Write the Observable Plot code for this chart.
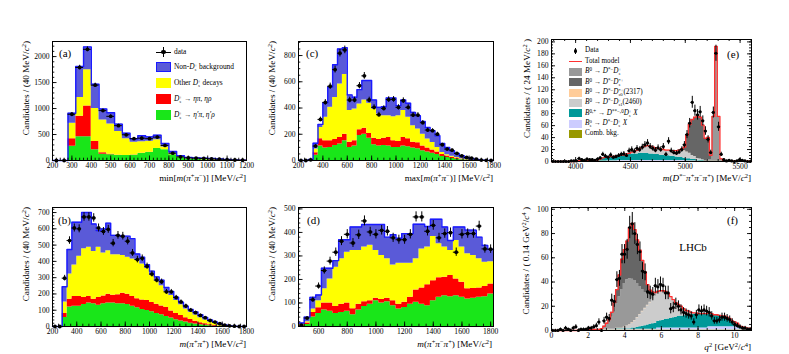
<!DOCTYPE html>
<html><head><meta charset="utf-8">
<script src="https://cdn.jsdelivr.net/npm/d3@7"></script>
<script src="https://cdn.jsdelivr.net/npm/@observablehq/plot@0.6"></script>
<style>
html,body{margin:0;padding:0;background:#fff;}
#root{position:relative;width:789px;height:354px;overflow:hidden;font-family:"Liberation Serif","Times New Roman",serif;color:#000;background:#fff}
#root svg{position:absolute}
.t{position:absolute;white-space:nowrap;line-height:1}
.t sup{font-size:70%;position:relative;top:-0.45em;vertical-align:baseline;line-height:0}
.t sub{font-size:70%;position:relative;top:0.3em;vertical-align:baseline;line-height:0}
.ss{display:inline-block;font-size:65%;line-height:0.85;vertical-align:-0.4em;text-align:left}
.ss>span{display:block}
.bx{position:absolute}
</style></head>
<body><div id="root"></div>
<script>
// ---------------- Panel (a): min[m(pi+pi-)] ----------------
const aTicksX = [200,300,400,500,600,700,800,900,1000,1100,1200];
const aTicksY = [0,500,1000,1500,2000];
const aData   = [0,0,890,1790,2140,1450,960,850,670,495,420,430,420,450,290,140,70,50,45,40,30,25,15,10,5];
const aGreen  = [0,0,276,455,455,205,120,110,95,95,100,135,155,230,205,110,58,30,20,15,12,10,6,4,2];
const aRed    = [0,0,417,853,1051,365,150,118,100,98,104,138,158,233,208,113,60,31,21,16,13,11,7,5,3];
const aYellow = [0,0,718,1211,1744,1000,780,700,560,420,350,360,370,400,260,130,70,45,36,30,25,18,12,8,4];
const aTotal  = [0,0,910,1808,2186,1468,990,920,700,525,420,475,455,487,327,173,90,58,50,45,40,30,20,12,6];

// ---------------- Panel (c): max[m(pi+pi-)] ----------------
const cTicksX = [200,400,600,800,1000,1200,1400,1600,1800];
const cTicksY = [0,200,400,600,800];
const cData   = [0,0,5,110,313,443,566,693,818,843,461,461,570,645,461,405,349,397,464,466,405,456,405,346,346,288,232,227,201,120,87,79,54,36,23,18,10,3,1,0];
const cTotal  = [0,0,8,132,275,440,560,730,850,860,500,482,540,610,610,461,405,410,476,476,418,461,436,367,341,298,252,227,189,130,99,74,54,36,23,15,8,3,1,0];
const cYellow = [0,0,3,87,252,330,405,481,583,655,382,392,430,461,436,392,354,341,341,334,341,382,329,265,240,201,163,138,99,61,43,33,23,13,8,3,1,0,0,0];
const cRed    = [0,0,2,60,165,150,150,160,175,200,140,150,235,245,205,170,160,170,175,150,145,175,165,140,135,110,95,80,65,45,35,25,18,10,6,3,1,0,0,0];
const cGreen  = [0,0,1,40,110,95,100,115,125,150,100,110,190,200,170,120,110,115,110,100,100,110,105,95,90,75,65,55,45,30,22,16,10,6,3,1,0,0,0,0];

// ---------------- Panel (b): m(pi+pi+) ----------------
const bTicksX = [200,400,600,800,1000,1200,1400,1600,1800];
const bTicksY = [0,100,200,300,400,500,600,700];
const bData   = [0,0,297,528,605,600,673,673,667,605,584,597,512,560,555,524,452,411,419,370,322,285,275,213,213,178,151,126,101,85,68,54,37,27,17,8,4,2,0,0];
const bTotal  = [0,0,244,473,640,640,700,700,630,590,600,635,560,560,555,555,540,445,425,380,340,305,285,240,215,180,150,125,105,90,72,55,40,28,18,10,4,2,0,0];
const bYellow = [0,0,150,322,378,432,477,487,460,487,452,466,440,440,436,425,415,405,384,357,315,280,250,215,190,160,133,108,88,70,54,40,28,18,9,4,1,0,0,0];
const bRed    = [0,0,80,167,184,184,178,184,167,178,188,198,192,195,204,198,184,171,163,159,147,136,126,116,95,80,68,54,43,33,23,17,10,6,2,0,0,0,0,0];
const bGreen  = [0,0,55,120,125,125,135,145,140,130,140,145,145,140,140,135,125,115,105,98,90,80,72,62,52,42,34,27,20,15,10,7,4,2,1,0,0,0,0,0];

// ---------------- Panel (d): m(pi+pi-pi+) ----------------
const dTicksX = [600,800,1000,1200,1400,1600,1800];
const dTicksY = [0,100,200,300,400,500];
const dData   = [6,36,114,172,238,278,316,363,392,355,390,449,402,392,409,405,377,369,369,392,466,466,405,430,377,395,399,316,392,395,395,427,330,329];
const dTotal  = [15,40,124,134,248,248,280,369,369,423,423,434,434,434,434,380,390,375,395,395,435,435,425,456,456,423,366,423,423,410,410,380,345,328];
const dYellow = [8,20,74,110,160,202,252,288,316,323,323,338,345,323,302,288,262,269,269,269,288,330,338,383,352,338,323,366,338,309,302,288,273,275];
const dRed    = [3,15,60,80,100,100,85,95,100,75,95,105,110,120,115,120,110,95,103,124,155,164,178,195,207,209,217,202,188,160,162,164,170,181];
const dGreen  = [0,8,40,55,70,65,55,60,65,50,70,85,95,110,100,105,88,74,81,95,103,95,88,110,124,131,127,131,124,117,120,124,127,138];

// ---------------- Panel (e): m(D*- pi+ pi- pi+), 24 MeV bins from 3780 ----------------
const eTicksX = [4000,4500,5000,5500];
const eTicksY = [0,20,40,60,80,100,120,140,160,180,200];
const eData = [0,0,0,0,0,0,0,1,1,1, 5,3,2,4,3,3,2,4,6,12, 9,7,11,7,8,10,12,13,10,18,
  20,17,22,20,24,28,31,25,22,19, 23,20,25,12,34,18,15,14,16,20, 28,45,64,99,85,78,83,68,51,37,
  15,82,181,58,12,3,1,2,1,0, 1,3,2,1,0,0];
const eCombVals   = [0.4,0.4,0.4,0.4,0.4,0.4,0.4,0.4,0.4,0.4, 0.4,0.4,0.4,0.4,0.4,0.4,0.4,0.4,0.4,0.4, 0.4,0.4,0.4,0.4,0.4,0.4,0.4,0.4,0.4,0.4,
  0.4,0.4,0.4,0.4,0.4,0.4,0.4,0.4,0.4,0.4, 0.4,0.4,0.4,0.4,0.4,0.4,0.4,0.4,0.4,0.4, 0.4,0.4,0.4,0.4,0.4,0.4,0.4,0.4,0.4,0.4, 0.4,0.4,0.4,0.4,0.4,0.4,0.4]; // from bin 9
const eBsVals     = [0.5,0.5,0.5,0.5,0.5,0.5,1,1,1,1, 1.2,1.2,1.2,1.2,1.2,1.2,1.2,1.2,1.2,1.2, 1.2,1.2,1.2,1.2,1.2,1.2,1.2,1.2,1.2,1.2,
  1.2,1.2,1.2,1.2,1.2,1.2,1,1,0.8,0.8, 0.8,0.6,0.5,0.4]; // from bin 15
const eTealVals   = [1,1,1,1,1,1,1,1,2,3,5, 6,6,7,7,8,8,9,9,10,10, 11,11,11,12,12,12,12,11,11,10, 10,9,9,8,8,7,7,6,5,5, 4,3,3,2,2,1,1,1]; // from bin 9
const e2460Vals   = [1,2,3,4,6,8,10,12,13,13,12,11,10,10,9,9,9,9,9,10,11,12,12,11,9,7,5,3,2,1]; // from bin 28
const e2317Vals   = [0.5,0.5,0.5,0.5,0.5,0.5,0.5,0.5,0.5,0.5,0.5,0.5,0.5]; // from bin 40
const eDsVals     = [2,2,72,190,74,4,1]; // from bin 59
const eDsStarVals = [1,2,6,28,48,60,66,71,70,58,38,38,8,3,2,1]; // from bin 48

// ---------------- Panel (f): q^2, 0.14 GeV^2 bins from 0 ----------------
const fTicksX = [0,2,4,6,8,10];
const fTicksY = [0,20,40,60,80,100];
const fData = [0,0,0,1,0,2,1,0,2,3, 0,1,1,1,2,2,3,4,7,0, 8,11,10,25,24,42,43,63,63,67,
  85,88,80,71,65,49,48,32,31,30, 37,36,38,37,31,31,18,19,22,20, 17,15,14,13,12,7,13,17,16,17,
  16,15,12,8,8,9,11,11,10,9, 7,5,4,3,2,2,1,1];
const fCombVals   = [0.5,0.5,0.5,0.5,0.5,0.5,0.5,0.5,0.5,0.5, 0.5,0.5,0.5,0.5,0.5,0.5,0.5,0.5,0.5,0.5, 0.5,0.5,0.5,0.5,0.5,0.5,0.5,0.5,0.5,0.5,
  0.5,0.5,0.5,0.5,0.5,0.5,0.5,0.5,0.5,0.5, 0.5,0.5,0.5,0.5,0.5,0.5,0.5,0.5,0.5,0.5, 0.5,0.5,0.5,0.5,0.5,0.5,0.5,0.5,0.5,0.5, 0.5,0.5,0.5,0.5]; // from bin 14
const fBsVals     = [0.5,0.5,0.5,0.5,0.5,0.5,0.5,0.5,0.5,0.5,0.5,0.5,0.5,0.5,0.5,0.5,0.5,0.5,0.5,0.5,0.5,
  1.5,1.5,1.5,1.5,1.5,1.5,1.5,1.5,1.5,1.5,1.5,1.5,1.5,1.5,1.5,1.5,1.5,1.5,1.5,1.5,
  2.5,2.5,2.5,2.5,2.5,2.5,2.5,2.5,2.5,2.5,2.5,2.5, 1,1,1,1,1]; // from bin 20
const fTealVals   = [0.5,0.5,0.5,0.5,0.5,0.5, 1,1,1.5,2,2.5,3,3.5,4,4.5,5,5.5,6,6.5,7,7.5,8,8.5,9,9.5,10,10,10.5,11,11,11.5,
  12,12,12,12,12,11.5,11,10,10,9.5,9,9,8,7,5,4,3,2,1.5,1,0.5,0.5]; // from bin 25
const f2460Vals   = [1,2,3,4,6,8,10,12,14,16,18,20,22,23,24,24,23,21,18,15,12,10,8,6,4,3,2,1,0.5]; // from bin 28
const f2317Vals   = [0.3,0.3,0.3,0.3,0.3,0.3,0.3,0.3,0.3,0.3,0.3,0.3,0.3,0.3,0.3,0.3,0.3,0.3,0.3,0.3,0.3]; // from bin 25
const fDsVals     = [0.3,0.3,0.4,0.4,0.5,0.5,0.5,0.5, 0.5,1,2,4,6,10,14,20,26,32,36,38,38,36,33,28,23,18,13,9,6,4,2,1,0.5]; // from bin 10
const fDsStarVals = [0.5,1,2,4,8,12,18,25,28,32,42,46,42,36,30,24,17,8,4,2,1,0.5]; // from bin 20

// ---------------- helpers ----------------
const root = document.getElementById("root");
function place(n, start, vals) { const a = new Array(n).fill(0); vals.forEach((v, i) => { a[start + i] = v; }); return a; }

const HC = {green: "#19e619", red: "#ff0000", yellow: "#ffff00", blue: "#5a5ad8", outline: "#1a1aff"};

function histMarks(edges, w, layers) {
  let prev = edges.map(() => 0);
  const marks = [];
  for (const L of layers) {
    const lo = prev, hi = L.top.map((v, i) => Math.max(v, lo[i]));
    const rows = edges.map((x, i) => ({x, lo: lo[i], hi: hi[i]}));
    rows.push({x: edges[edges.length - 1] + w, lo: lo[lo.length - 1], hi: hi[hi.length - 1]});
    marks.push(Plot.areaY(rows, {x: "x", y1: "lo", y2: "hi", fill: L.fill, curve: "step-after"}));
    if (L.outline) marks.push(Plot.line(rows, {x: "x", y: "hi", stroke: L.outline, strokeWidth: 1.4, curve: "step-after"}));
    prev = hi;
  }
  return marks;
}
function stackMarks(edges, w, comps, totalColor) {
  const rows = [];
  for (const c of comps) {
    c.values.forEach((v, i) => rows.push({x: edges[i], v, comp: c.name}));
    rows.push({x: edges[edges.length - 1] + w, v: c.values[c.values.length - 1], comp: c.name});
  }
  const total = edges.map((x, i) => ({x, v: d3.sum(comps, c => c.values[i])}));
  total.push({x: edges[edges.length - 1] + w, v: total[total.length - 1].v});
  return [
    Plot.areaY(rows, {x: "x", y: "v", fill: "comp", curve: "step-after"}),
    Plot.line(total, {x: "x", y: "v", stroke: totalColor, strokeWidth: 1.3, curve: "step-after"})
  ];
}
function dataMarks(edges, w, vals, r, minErr) {
  const pts = vals.map((v, i) => ({x: edges[i] + w / 2, v, e: Math.sqrt(Math.max(v, minErr))}));
  return [
    Plot.ruleX(pts, {x: "x", y1: d => Math.max(0, d.v - d.e), y2: d => d.v + d.e, stroke: "#000", strokeWidth: 1}),
    Plot.ruleY(pts, {y: "v", x1: d => d.x - w / 2, x2: d => d.x + w / 2, stroke: "#000", strokeWidth: 1}),
    Plot.dot(pts, {x: "x", y: "v", r, fill: "#000", stroke: "none"})
  ];
}
function buildPanel(cfg) {
  const ML = 36, MR = 8, MT = 6, MB = 16;
  const [fx0, fy0, fx1, fy1] = cfg.frame;
  const fw = fx1 - fx0, fh = fy1 - fy0;
  const width = fw + ML + MR, height = fh + MT + MB;
  const maj = cfg.majLen || 4.5, mn = cfg.minLen || 2.3;
  const tk = {stroke: "#000", strokeWidth: 0.9};
  const ticks = [
    Plot.ruleX(cfg.xMinor, {x: d => d, insetTop: fh - mn, ...tk}),
    Plot.ruleX(cfg.xTicks, {x: d => d, insetTop: fh - maj, ...tk}),
    Plot.ruleY(cfg.yMinor, {y: d => d, insetRight: fw - mn, ...tk}),
    Plot.ruleY(cfg.yTicks, {y: d => d, insetRight: fw - maj, ...tk})
  ];
  if (cfg.allSides) ticks.push(
    Plot.ruleX(cfg.xMinor, {x: d => d, insetBottom: fh - mn, ...tk}),
    Plot.ruleX(cfg.xTicks, {x: d => d, insetBottom: fh - maj, ...tk}),
    Plot.ruleY(cfg.yMinor, {y: d => d, insetLeft: fw - mn, ...tk}),
    Plot.ruleY(cfg.yTicks, {y: d => d, insetLeft: fw - maj, ...tk}));
  const svg = Plot.plot({
    width, height, marginLeft: ML, marginRight: MR, marginTop: MT, marginBottom: MB,
    style: {fontFamily: "'Liberation Serif', serif", fontSize: "7.6px", background: "transparent", overflow: "visible", color: "#000"},
    x: {domain: cfg.xDomain, ticks: cfg.xTicks, tickSize: 0, tickPadding: 2.5, tickFormat: d => String(d), label: null},
    y: {domain: cfg.yDomain, ticks: cfg.yTicks, tickSize: 0, tickPadding: 3, tickFormat: d => String(d), label: null},
    color: cfg.color,
    marks: [...cfg.marks, Plot.frame({stroke: "#000", strokeWidth: 1}), ...ticks]
  });
  svg.style.left = (fx0 - ML) + "px";
  svg.style.top = (fy0 - MT) + "px";
  root.appendChild(svg);
}
function label(html, x, baseline, size, align) {
  const d = document.createElement("div");
  d.className = "t"; d.style.fontSize = size + "px"; d.innerHTML = html;
  d.style.top = (baseline - 0.84 * size) + "px";
  if (align === "right") d.style.right = (789 - x) + "px";
  else if (align === "center") { d.style.left = x + "px"; d.style.transform = "translateX(-50%)"; }
  else d.style.left = x + "px";
  root.appendChild(d);
}
function vlabel(html, cx, top, size) {
  const d = document.createElement("div");
  d.className = "t"; d.style.fontSize = size + "px"; d.innerHTML = html;
  d.style.left = cx + "px"; d.style.top = top + "px";
  d.style.transformOrigin = "0 0";
  d.style.transform = "rotate(-90deg) translate(-100%, -50%)";
  root.appendChild(d);
}
function box(x, y, w, h, bg, extra) {
  const d = document.createElement("div");
  d.className = "bx";
  Object.assign(d.style, {left: x + "px", top: y + "px", width: w + "px", height: h + "px", background: bg}, extra || {});
  root.appendChild(d);
}
const ss = (sup, sub) => `<span class="ss"><span>${sup}</span><span>${sub}</span></span>`;
const c2 = "MeV/<i>c</i><sup>2</sup>";

// ---------------- build histogram panels ----------------
const aEdges = d3.range(200, 1200, 40);
buildPanel({frame: [52, 41, 246, 160], xDomain: [200, 1200], yDomain: [0, 2290],
  xTicks: aTicksX, xMinor: d3.range(200, 1201, 20), yTicks: aTicksY, yMinor: d3.range(0, 2290, 100),
  marks: [...histMarks(aEdges, 40, [{top: aGreen, fill: HC.green}, {top: aRed, fill: HC.red}, {top: aYellow, fill: HC.yellow}, {top: aTotal, fill: HC.blue, outline: HC.outline}]),
          ...dataMarks(aEdges, 40, aData, 1.9, 0)]});

const cEdges = d3.range(200, 1800, 40);
buildPanel({frame: [298, 41, 493, 160], xDomain: [200, 1800], yDomain: [0, 907],
  xTicks: cTicksX, xMinor: d3.range(200, 1801, 50), yTicks: cTicksY, yMinor: d3.range(0, 907, 50),
  marks: [...histMarks(cEdges, 40, [{top: cGreen, fill: HC.green}, {top: cRed, fill: HC.red}, {top: cYellow, fill: HC.yellow}, {top: cTotal, fill: HC.blue, outline: HC.outline}]),
          ...dataMarks(cEdges, 40, cData, 1.9, 0)]});

const bEdges = d3.range(200, 1800, 40);
buildPanel({frame: [52, 207, 246, 326], xDomain: [200, 1800], yDomain: [0, 731],
  xTicks: bTicksX, xMinor: d3.range(200, 1801, 50), yTicks: bTicksY, yMinor: d3.range(0, 731, 20),
  marks: [...histMarks(bEdges, 40, [{top: bGreen, fill: HC.green}, {top: bRed, fill: HC.red}, {top: bYellow, fill: HC.yellow}, {top: bTotal, fill: HC.blue, outline: HC.outline}]),
          ...dataMarks(bEdges, 40, bData, 1.9, 0)]});

const dEdges = d3.range(460, 1820, 40);
buildPanel({frame: [298, 207, 493, 326], xDomain: [460, 1820], yDomain: [0, 506],
  xTicks: dTicksX, xMinor: d3.range(500, 1821, 50), yTicks: dTicksY, yMinor: d3.range(0, 506, 20),
  marks: [...histMarks(dEdges, 40, [{top: dGreen, fill: HC.green}, {top: dRed, fill: HC.red}, {top: dYellow, fill: HC.yellow}, {top: dTotal, fill: HC.blue, outline: HC.outline}]),
          ...dataMarks(dEdges, 40, dData, 1.9, 0)]});

// ---------------- fit panels (e), (f) ----------------
const compNames  = ["Comb", "Bs", "Dstst", "D2460", "D2317", "Ds", "DsStar"];
const compColors = ["#999900", "#ccccff", "#009999", "#cccccc", "#ffcc99", "#999999", "#666666"];

const eN = 76, eEdges = d3.range(0, eN).map(i => 3780 + 24 * i);
const eComps = [
  {name: "Comb", values: place(eN, 9, eCombVals)},
  {name: "Bs", values: place(eN, 15, eBsVals)},
  {name: "Dstst", values: place(eN, 9, eTealVals)},
  {name: "D2460", values: place(eN, 28, e2460Vals)},
  {name: "D2317", values: place(eN, 40, e2317Vals)},
  {name: "Ds", values: place(eN, 59, eDsVals)},
  {name: "DsStar", values: place(eN, 48, eDsStarVals)}
];
buildPanel({frame: [551, 39, 751, 161], xDomain: [3780, 5604], yDomain: [0, 204], allSides: true, majLen: 4, minLen: 2,
  xTicks: eTicksX, xMinor: d3.range(3800, 5601, 100), yTicks: eTicksY, yMinor: d3.range(0, 204, 5),
  color: {domain: compNames, range: compColors},
  marks: [...stackMarks(eEdges, 24, eComps, "#ff3030"), ...dataMarks(eEdges, 24, eData, 1.6, 1)]});

const fN = 78, fEdges = d3.range(0, fN).map(i => 0.14 * i);
const fComps = [
  {name: "Comb", values: place(fN, 14, fCombVals)},
  {name: "Bs", values: place(fN, 20, fBsVals)},
  {name: "Dstst", values: place(fN, 25, fTealVals)},
  {name: "D2460", values: place(fN, 28, f2460Vals)},
  {name: "D2317", values: place(fN, 25, f2317Vals)},
  {name: "Ds", values: place(fN, 10, fDsVals)},
  {name: "DsStar", values: place(fN, 20, fDsStarVals)}
];
buildPanel({frame: [551, 207, 751, 330], xDomain: [0, 10.92], yDomain: [0, 101.5], allSides: true, majLen: 4, minLen: 2,
  xTicks: fTicksX, xMinor: d3.range(0, 10.9, 0.5), yTicks: fTicksY, yMinor: d3.range(0, 101, 5),
  color: {domain: compNames, range: compColors},
  marks: [...stackMarks(fEdges, 0.14, fComps, "#ff3030"), ...dataMarks(fEdges, 0.14, fData, 1.6, 1)]});

// ---------------- axis titles ----------------
const yTitle40 = `Candidates / (40 ${c2})`;
vlabel(yTitle40, 27, 41, 9.2);
vlabel(yTitle40, 273, 41, 9.2);
vlabel(yTitle40, 27, 207, 9.2);
vlabel(yTitle40, 273, 207, 9.2);
vlabel(`Candidates / ( 24 ${c2} )`, 528, 39, 9.2);
vlabel(`Candidates / ( 0.14 GeV<sup>2</sup>/<i>c</i><sup>4</sup> )`, 527, 207, 9.2);

label(`min[<i>m</i>(<i>π</i><sup>+</sup><i>π</i><sup>−</sup>)] [${c2}]`, 246, 181.5, 9.2, "right");
label(`max[<i>m</i>(<i>π</i><sup>+</sup><i>π</i><sup>−</sup>)] [${c2}]`, 493, 181.5, 9.2, "right");
label(`<i>m</i>(<i>D</i><sup>*−</sup><i>π</i><sup>+</sup><i>π</i><sup>−</sup><i>π</i><sup>+</sup>) [${c2}]`, 751, 181.5, 9.2, "right");
label(`<i>m</i>(<i>π</i><sup>+</sup><i>π</i><sup>+</sup>) [${c2}]`, 246, 347.5, 9.2, "right");
label(`<i>m</i>(<i>π</i><sup>+</sup><i>π</i><sup>−</sup><i>π</i><sup>+</sup>) [${c2}]`, 492, 347.5, 9.2, "right");
label(`<i>q</i><sup>2</sup> [GeV<sup>2</sup>/<i>c</i><sup>4</sup>]`, 751, 351, 9.2, "right");

// panel tags
label("(a)", 59, 57, 11); label("(c)", 306, 57, 11); label("(e)", 727, 58, 11);
label("(b)", 58, 224, 11); label("(d)", 307, 224, 11); label("(f)", 727, 224, 11);
label("LHCb", 693, 251, 11, "center");

// ---------------- legend (a) ----------------
const aLegend = ["data", `Non-<i>D</i>${ss("+", "<i>s</i>")} background`, `Other <i>D</i>${ss("+", "<i>s</i>")} decays`,
  `<i>D</i>${ss("+", "<i>s</i>")} → <i>ηπ</i>, <i>ηρ</i>`, `<i>D</i>${ss("+", "<i>s</i>")} → <i>η′π</i>, <i>η′ρ</i>`];
const aLegRows = [52, 67, 83, 99, 115];
const aLegFill = [null, HC.blue, HC.yellow, HC.red, HC.green];
aLegend.forEach((t, i) => {
  const y = aLegRows[i];
  if (i === 0) {
    box(156, y - 0.5, 15, 1, "#000");
    box(163, y - 5, 1, 10, "#000");
    box(161.3, y - 2.2, 4.4, 4.4, "#000", {borderRadius: "50%"});
  } else {
    box(156, y - 5, 15, 10, aLegFill[i], i === 1 ? {boxSizing: "border-box", border: "1px solid " + HC.outline} : {});
  }
  label(t, 174, y + 2.6, 7.4);
});

// ---------------- legend (e) ----------------
const B0 = "<i>B</i><sup>0</sup> → <i>D</i><sup>*−</sup><i>D</i>";
const eLegend = ["Data", "Total model",
  `${B0}${ss("+", "<i>s</i>")}`,
  `${B0}${ss("*+", "<i>s</i>")}`,
  `${B0}${ss("*+", "<i>s</i>0")}(2317)`,
  `${B0}${ss("+", "<i>s</i>1")}(2460)`,
  `<i>B</i><sup>0,+</sup> → <i>D</i><sup>**−,0</sup><i>D</i>${ss("+", "<i>s</i>")} <i>X</i>`,
  `<i>B</i>${ss("0", "<i>s</i>")} → <i>D</i><sup>*−</sup><i>D</i>${ss("+", "<i>s</i>")} <i>X</i>`,
  "Comb. bkg."];
const eLegRows = [51, 61.7, 72, 82.3, 92.7, 103, 113.3, 123.5, 134];
const eLegFill = [null, null, "#999999", "#666666", "#ffcc99", "#cccccc", "#009999", "#ccccff", "#999900"];
eLegend.forEach((t, i) => {
  const y = eLegRows[i];
  if (i === 0) {
    box(575, y - 3, 1, 6, "#000");
    box(573.6, y - 1.9, 3.8, 3.8, "#000", {borderRadius: "50%"});
  } else if (i === 1) {
    box(569, y - 0.8, 13, 1.6, "#ff3030");
  } else {
    box(569, y - 4, 13, 8, eLegFill[i]);
  }
  label(t, 585, y + 2.5, 7.2);
});
</script></body></html>
